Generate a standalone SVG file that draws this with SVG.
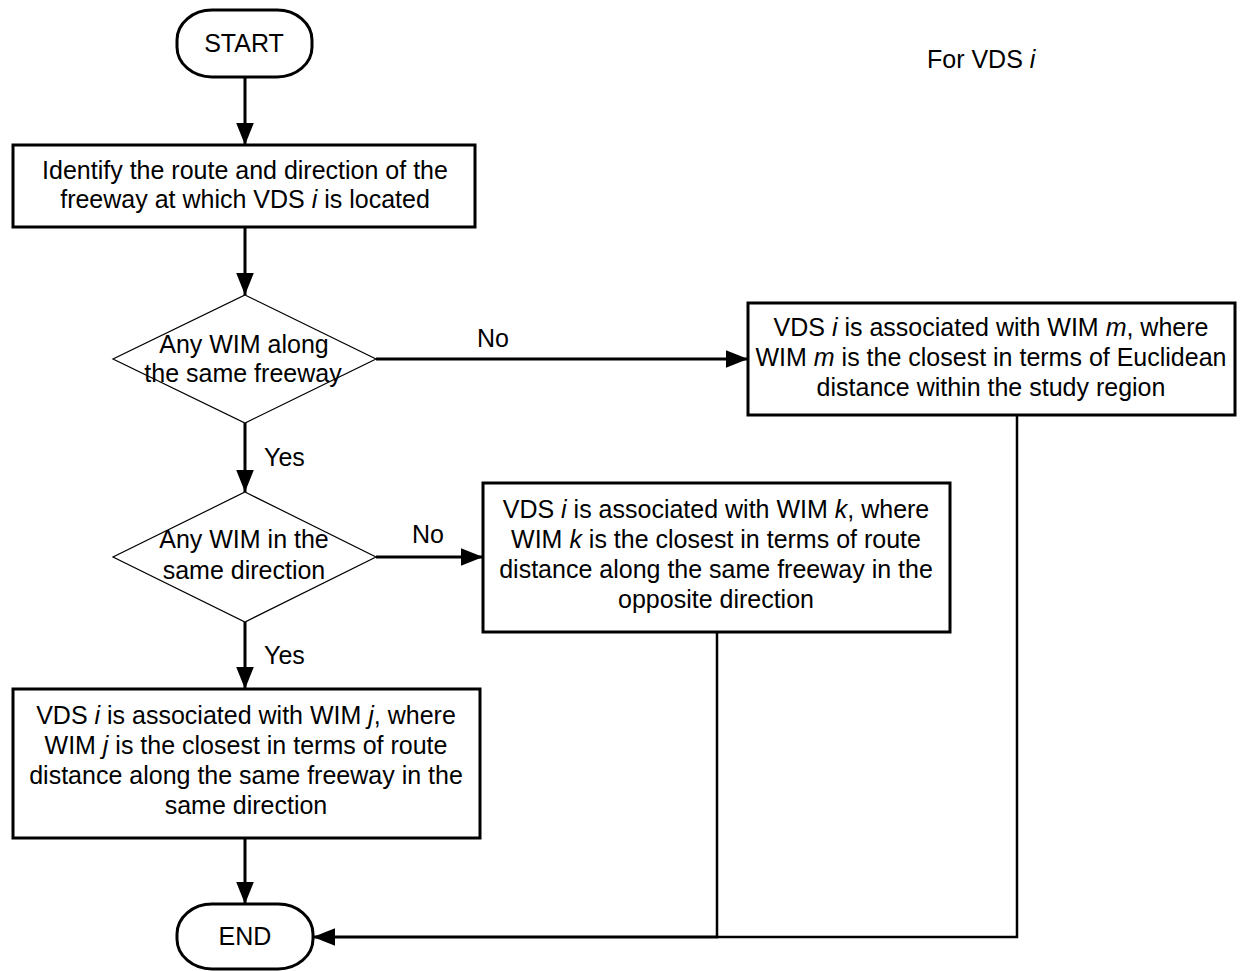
<svg xmlns="http://www.w3.org/2000/svg" width="1243" height="971" viewBox="0 0 1243 971">
<defs>
<style>
.t{font-family:"Liberation Sans",Arial,sans-serif;font-size:25px;fill:#000;text-anchor:middle}
.l{font-family:"Liberation Sans",Arial,sans-serif;font-size:25px;fill:#000}
.box{fill:#fff;stroke:#000;stroke-width:3}
.dia{fill:#fff;stroke:#000;stroke-width:1.2}
.c{fill:none;stroke:#000;stroke-width:3}
.c2{fill:none;stroke:#000;stroke-width:2.5}
</style>
<marker id="arr" markerUnits="userSpaceOnUse" markerWidth="22" markerHeight="18" refX="20" refY="8" orient="auto" viewBox="0 0 20 16">
<path d="M0,0 L20,8 L0,16 z" fill="#000"/>
</marker>
</defs>
<rect width="1243" height="971" fill="#fff"/>
<g id="connectors">
<line class="c" x1="245" y1="77" x2="245" y2="145" marker-end="url(#arr)"/>
<line class="c" x1="245" y1="227" x2="245" y2="295" marker-end="url(#arr)"/>
<line class="c" x1="376" y1="359" x2="748" y2="359" marker-end="url(#arr)"/>
<line class="c" x1="245" y1="423" x2="245" y2="492" marker-end="url(#arr)"/>
<line class="c" x1="376" y1="557" x2="483" y2="557" marker-end="url(#arr)"/>
<line class="c" x1="245" y1="622" x2="245" y2="689" marker-end="url(#arr)"/>
<line class="c" x1="245" y1="838" x2="245" y2="904" marker-end="url(#arr)"/>
<polyline class="c2" points="1017,415 1017,937 717,937"/>
<line class="c2" x1="717" y1="632" x2="717" y2="937"/>
<line class="c" x1="718" y1="937" x2="313" y2="937" marker-end="url(#arr)"/>
<text class="l" x="477" y="347">No</text>
<text class="l" x="412" y="543">No</text>
<text class="l" x="264" y="466">Yes</text>
<text class="l" x="264" y="664">Yes</text>
</g>
<g id="start">
<rect class="box" x="177" y="10" width="135" height="67" rx="35" ry="30"/>
<text class="t" x="244" y="52">START</text>
</g>
<g id="identify">
<rect class="box" x="13" y="145" width="462" height="82"/>
<text class="t" x="245" y="179">Identify the route and direction of the</text>
<text class="t" x="245" y="208">freeway at which VDS <tspan font-style="italic">i</tspan> is located</text>
</g>
<g id="dec1">
<polygon class="dia" points="245,295 376,359 245,423 113,359"/>
<text class="t" x="244" y="353">Any WIM along</text>
<text class="t" x="243" y="382">the same freeway</text>
</g>
<g id="boxm">
<rect class="box" x="748" y="303" width="487" height="112"/>
<text class="t" x="991" y="336">VDS <tspan font-style="italic">i</tspan> is associated with WIM <tspan font-style="italic">m</tspan>, where</text>
<text class="t" x="991" y="366">WIM <tspan font-style="italic">m</tspan> is the closest in terms of Euclidean</text>
<text class="t" x="991" y="396">distance within the study region</text>
</g>
<g id="dec2">
<polygon class="dia" points="245,492 376,557 245,622 113,557"/>
<text class="t" x="244" y="548">Any WIM in the</text>
<text class="t" x="244" y="579">same direction</text>
</g>
<g id="boxk">
<rect class="box" x="483" y="483" width="467" height="149"/>
<text class="t" x="716" y="518">VDS <tspan font-style="italic">i</tspan> is associated with WIM <tspan font-style="italic">k</tspan>, where</text>
<text class="t" x="716" y="548">WIM <tspan font-style="italic">k</tspan> is the closest in terms of route</text>
<text class="t" x="716" y="578">distance along the same freeway in the</text>
<text class="t" x="716" y="608">opposite direction</text>
</g>
<g id="boxj">
<rect class="box" x="13" y="689" width="467" height="149"/>
<text class="t" x="246" y="724">VDS <tspan font-style="italic">i</tspan> is associated with WIM <tspan font-style="italic">j</tspan>, where</text>
<text class="t" x="246" y="754">WIM <tspan font-style="italic">j</tspan> is the closest in terms of route</text>
<text class="t" x="246" y="784">distance along the same freeway in the</text>
<text class="t" x="246" y="814">same direction</text>
</g>
<g id="end">
<rect class="box" x="177" y="904" width="136" height="65" rx="35" ry="30"/>
<text class="t" x="245" y="945">END</text>
</g>
<g id="label">
<text class="l" x="927" y="68">For VDS <tspan font-style="italic">i</tspan></text>
</g>
</svg>
